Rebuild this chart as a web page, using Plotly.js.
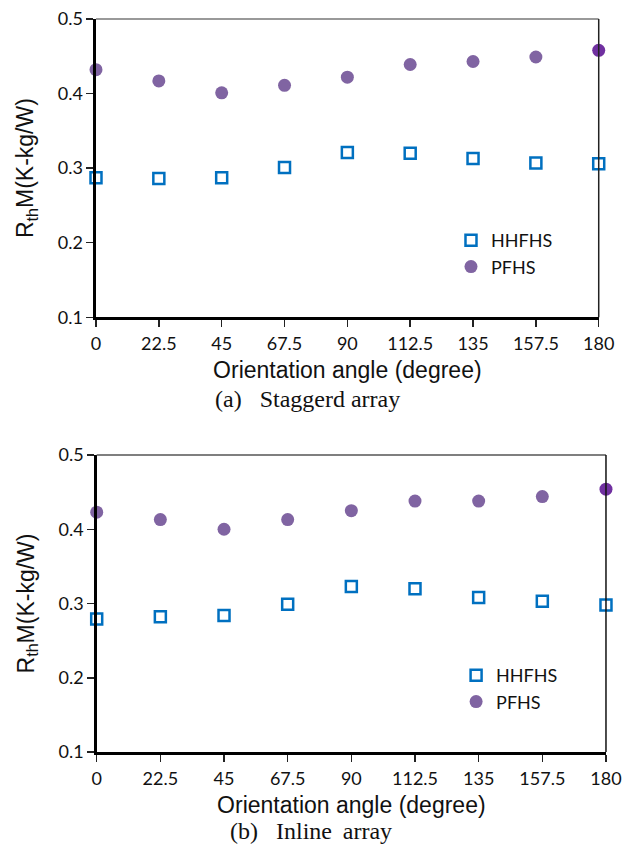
<!DOCTYPE html>
<html>
<head>
<meta charset="utf-8">
<script src="https://cdn.plot.ly/plotly-3.0.1.min.js"></script>
<style>html,body{margin:0;padding:0;background:#fff;}#chart{width:637px;height:844px;}</style>
</head>
<body>
<div id="chart"></div>
<script>
// Data
const angles = [0, 22.5, 45, 67.5, 90, 112.5, 135, 157.5, 180];
const tickLabels = ["0", "22.5", "45", "67.5", "90", "112.5", "135", "157.5", "180"];
const staggeredHHFHS = [0.287, 0.286, 0.287, 0.301, 0.321, 0.320, 0.313, 0.307, 0.306];
const staggeredPFHS  = [0.432, 0.417, 0.401, 0.411, 0.422, 0.439, 0.443, 0.449, 0.458];
const inlineHHFHS    = [0.279, 0.282, 0.284, 0.299, 0.323, 0.320, 0.308, 0.303, 0.298];
const inlinePFHS     = [0.423, 0.413, 0.400, 0.413, 0.425, 0.438, 0.438, 0.444, 0.454];
const pfhsColors = ["#8064A2","#8064A2","#8064A2","#8064A2","#8064A2","#8064A2","#8064A2","#8064A2","#7030A0"];

const sqMarker = {symbol: "square-open", size: 11, color: "#0070C0", line: {color: "#0070C0", width: 2.5}};
const ciMarker = {symbol: "circle", size: 13, color: pfhsColors, line: {width: 0}};

const traces = [
  {x: angles, y: staggeredHHFHS, mode: "markers", name: "HHFHS", marker: sqMarker, xaxis: "x", yaxis: "y", legend: "legend", cliponaxis: false},
  {x: angles, y: staggeredPFHS, mode: "markers", name: "PFHS", marker: ciMarker, xaxis: "x", yaxis: "y", legend: "legend", cliponaxis: false},
  {x: angles, y: inlineHHFHS, mode: "markers", name: "HHFHS", marker: sqMarker, xaxis: "x2", yaxis: "y2", legend: "legend2", cliponaxis: false},
  {x: angles, y: inlinePFHS, mode: "markers", name: "PFHS", marker: ciMarker, xaxis: "x2", yaxis: "y2", legend: "legend2", cliponaxis: false}
];

const tickFont = {family: "Lato, 'Open Sans', sans-serif", size: 18, color: "#111"};
const titleFont = {family: "Arial, 'Liberation Sans', sans-serif", size: 23, color: "#111"};

function xAxis(domain, anchor) {
  return {
    domain: domain, anchor: anchor, range: [0, 180], tickvals: angles, ticktext: tickLabels,
    showgrid: false, zeroline: false, showline: true, linecolor: "#000", linewidth: 2.5,
    ticks: "outside", ticklen: 7, tickwidth: 1.5, tickcolor: "#222", tickfont: tickFont,
    ticklabelstandoff: 2,
    title: {text: "Orientation angle (degree)", font: titleFont, standoff: 9}
  };
}
function yAxis(domain, anchor) {
  return {
    domain: domain, anchor: anchor, range: [0.1, 0.5], tickvals: [0.1, 0.2, 0.3, 0.4, 0.5],
    ticktext: ["0.1", "0.2", "0.3", "0.4", "0.5"],
    showgrid: false, zeroline: false, showline: true, linecolor: "#000", linewidth: 2.5,
    ticks: "outside", ticklen: 7, tickwidth: 1.5, tickcolor: "#222", tickfont: tickFont,
    title: {text: "R<sub>th</sub>M(K-kg/W)", font: titleFont, standoff: 18}
  };
}

const layout = {
  width: 637, height: 844,
  margin: {l: 0, r: 0, t: 0, b: 0},
  paper_bgcolor: "#fff", plot_bgcolor: "#fff",
  showlegend: true,
  xaxis: xAxis([0.1507, 0.9399], "y"),
  yaxis: yAxis([0.6241, 0.9775], "x"),
  xaxis2: xAxis([0.1518, 0.9513], "y2"),
  yaxis2: yAxis([0.1090, 0.4609], "x2"),
  legend: {x: 0.708, y: 0.737, xanchor: "left", yanchor: "top", bgcolor: "rgba(0,0,0,0)",
           font: {family: "Lato, 'Open Sans', sans-serif", size: 18, color: "#111"}, itemwidth: 30},
  legend2: {x: 0.716, y: 0.2216, xanchor: "left", yanchor: "top", bgcolor: "rgba(0,0,0,0)",
           font: {family: "Lato, 'Open Sans', sans-serif", size: 18, color: "#111"}, itemwidth: 30},
  shapes: [
    {type: "line", xref: "x domain", yref: "y domain", x0: 0, x1: 1, y0: 1, y1: 1, line: {color: "#777", width: 1.5}},
    {type: "line", xref: "x domain", yref: "y domain", x0: 1, x1: 1, y0: 0, y1: 1, line: {color: "#222", width: 1.5}},
    {type: "line", xref: "x2 domain", yref: "y2 domain", x0: 0, x1: 1, y0: 1, y1: 1, line: {color: "#555", width: 1.5}},
    {type: "line", xref: "x2 domain", yref: "y2 domain", x0: 1, x1: 1, y0: 0, y1: 1, line: {color: "#111", width: 1.5}}
  ],
  annotations: [
    {text: "(a)&nbsp;&nbsp; Staggerd array", xref: "paper", yref: "paper", x: 307/637, y: 1 - 399/844,
     xanchor: "center", yanchor: "middle", showarrow: false,
     font: {family: "'Liberation Serif', 'Times New Roman', serif", size: 24, color: "#111"}},
    {text: "(b)&nbsp;&nbsp; Inline&#8201; array", xref: "paper", yref: "paper", x: 311/637, y: 1 - 831/844,
     xanchor: "center", yanchor: "middle", showarrow: false,
     font: {family: "'Liberation Serif', 'Times New Roman', serif", size: 24, color: "#111"}}
  ]
};

Plotly.newPlot("chart", traces, layout, {displayModeBar: false, staticPlot: true});
</script>
</body>
</html>
